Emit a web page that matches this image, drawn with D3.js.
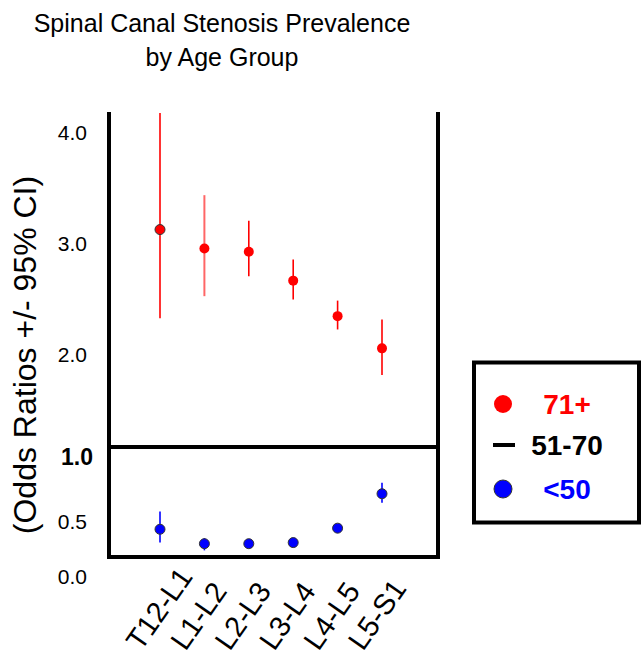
<!DOCTYPE html>
<html>
<head>
<meta charset="utf-8">
<script src="https://cdn.jsdelivr.net/npm/d3@7"></script>
<style>
  html, body { margin: 0; padding: 0; background: #fff; }
  svg { display: block; font-family: "Liberation Sans", Arial, sans-serif; }
</style>
</head>
<body>
<svg id="chart" width="642" height="659"></svg>
<script>
// ---- Data ----
const categories = ["T12-L1", "L1-L2", "L2-L3", "L3-L4", "L4-L5", "L5-S1"];
// 71+ age group (odds ratio, lower and upper 95% CI)
const or71  = [3.13, 2.96, 2.93, 2.67, 2.35, 2.06];
const lo71  = [2.33, 2.53, 2.71, 2.50, 2.23, 1.82];
const hi71  = [4.18, 3.44, 3.21, 2.86, 2.49, 2.32];
// <50 age group
const orU50 = [0.43, 0.30, 0.30, 0.31, 0.44, 0.75];
const loU50 = [0.31, 0.24, 0.27, 0.28, 0.42, 0.67];
const hiU50 = [0.59, 0.35, 0.33, 0.34, 0.46, 0.85];
const yTickValues = [0.0, 0.5, 2.0, 3.0, 4.0];
const refValue = 1.0;
const legendLabels = ["71+", "51-70", "<50"];
const titleLines = ["Spinal Canal Stenosis Prevalence", "by Age Group"];
const yTitle = "(Odds Ratios +/- 95% CI)";

// ---- Layout ----
const svg = d3.select("#chart");
const frame = { left: 109, right: 438, top: 112, bottom: 557, ref: 447 };

const x = d3.scalePoint().domain(categories).range([160, 382]);
const y = d3.scaleLinear().domain([0, 4]).range([577, 133]);

// Title
svg.append("g").selectAll("text").data(titleLines).join("text")
  .attr("x", 222).attr("y", (d, i) => 32 + i * 34)
  .attr("text-anchor", "middle")
  .attr("font-size", 25).attr("fill", "#000")
  .text(d => d);

// Y title
svg.append("text")
  .attr("transform", "translate(36,355) rotate(-90)")
  .attr("text-anchor", "middle")
  .attr("font-size", 32)
  .text(yTitle);

// Y axis tick labels
const yAxis = d3.axisLeft(y).tickValues(yTickValues).tickFormat(d3.format(".1f")).tickSize(0).tickPadding(0);
const gy = svg.append("g").attr("transform", "translate(87,0)").call(yAxis);
gy.select(".domain").remove();
gy.selectAll("text").attr("font-size", 21).attr("font-family", "Liberation Sans, Arial, sans-serif").attr("fill", "#000");

// Reference label 1.0 (bold)
svg.append("text")
  .attr("x", 93).attr("y", frame.ref + 10)
  .attr("text-anchor", "end").attr("dominant-baseline", "central")
  .attr("font-size", 23).attr("font-weight", "bold")
  .text(d3.format(".1f")(refValue));

// Frame
const fr = svg.append("g").attr("stroke", "#000").attr("stroke-width", 4).attr("fill", "none");
fr.append("line").attr("x1", frame.left).attr("x2", frame.left).attr("y1", frame.top).attr("y2", frame.bottom + 2);
fr.append("line").attr("x1", frame.right).attr("x2", frame.right).attr("y1", frame.top).attr("y2", frame.bottom + 2);
fr.append("line").attr("x1", frame.left - 2).attr("x2", frame.right + 2).attr("y1", frame.bottom).attr("y2", frame.bottom);
fr.append("line").attr("x1", frame.left).attr("x2", frame.right).attr("y1", frame.ref).attr("y2", frame.ref);

// Series
const series = [
  { name: "71+", color: "#ff0000", vals: or71, lo: lo71, hi: hi71 },
  { name: "<50", color: "#0000ff", vals: orU50, lo: loU50, hi: hiU50 }
];
series.forEach(s => {
  const g = svg.append("g");
  const rows = categories.map((c, i) => ({ c, i, v: s.vals[i], lo: s.lo[i], hi: s.hi[i] }));
  g.selectAll("line").data(rows).join("line")
    .attr("x1", d => x(d.c)).attr("x2", d => x(d.c))
    .attr("y1", d => Math.max(y(d.hi), frame.top + 1)).attr("y2", d => y(d.lo))
    .attr("stroke", s.color)
    .attr("stroke-width", d => (s.name === "71+" && d.i === 1) ? 2 : 1.6)
    .attr("stroke-opacity", d => (s.name === "71+" && d.i === 1) ? 0.6 : 1);
  g.selectAll("circle").data(rows).join("circle")
    .attr("cx", d => x(d.c)).attr("cy", d => y(d.v))
    .attr("r", 5)
    .attr("fill", s.color)
    .attr("stroke", d => (s.name === "<50" || d.i === 0) ? "#333" : "none")
    .attr("stroke-width", 1);
});

// X labels
svg.append("g").selectAll("text").data(categories).join("text")
  .attr("transform", d => `translate(${x(d) - 19},652) rotate(-55)`)
  .attr("text-anchor", "start")
  .attr("font-size", 29)
  .text(d => d);

// Legend
const lg = svg.append("g");
lg.append("rect").attr("x", 474).attr("y", 362.5).attr("width", 165).attr("height", 160)
  .attr("fill", "#fff").attr("stroke", "#000").attr("stroke-width", 4);
const legendColors = ["#ff0000", "#000", "#0000ff"];
const legendY = [404, 445, 489];
legendLabels.forEach((lab, i) => {
  if (i === 1) {
    lg.append("line").attr("x1", 493).attr("x2", 515).attr("y1", legendY[i]).attr("y2", legendY[i])
      .attr("stroke", "#000").attr("stroke-width", 4);
  } else {
    lg.append("circle").attr("cx", 503).attr("cy", legendY[i]).attr("r", 9)
      .attr("fill", legendColors[i]).attr("stroke", i === 2 ? "#333" : "none").attr("stroke-width", 1);
  }
  lg.append("text").attr("x", 567).attr("y", legendY[i])
    .attr("text-anchor", "middle").attr("dominant-baseline", "central")
    .attr("font-size", 28).attr("font-weight", "bold").attr("fill", legendColors[i])
    .text(lab);
});
</script>
</body>
</html>
